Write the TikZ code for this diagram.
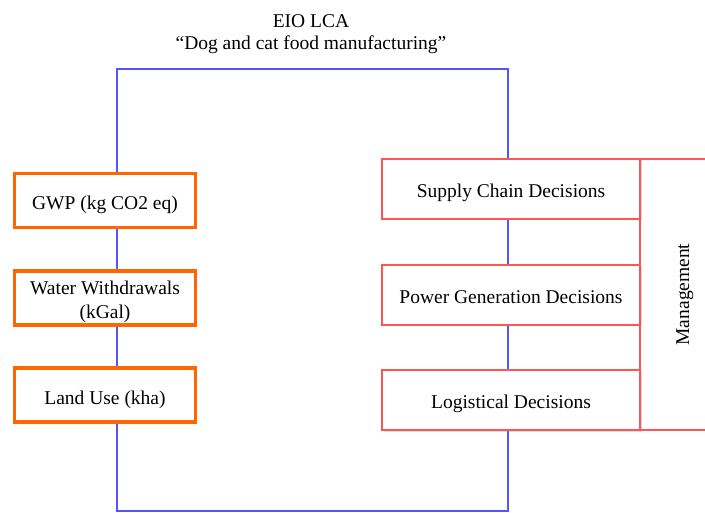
\documentclass[tikz,border=0pt]{standalone}
\usepackage{fontspec}
\setmainfont{Liberation Serif}
\usetikzlibrary{shadows}
\definecolor{lineblue}{RGB}{85,85,255}
\definecolor{boxorange}{RGB}{255,102,0}
\definecolor{boxred}{RGB}{255,85,85}
\tikzset{
  txt/.style={font=\fontsize{19.5}{24}\selectfont, align=center, inner sep=0pt},
  low/.style={text height=18pt, text depth=0pt},
  metricbox/.style={txt, draw=boxorange, line width=3.5pt, fill=white,
    minimum width=181pt, minimum height=54pt,
    drop shadow={opacity=0.3, shadow xshift=1.5pt, shadow yshift=-1.5pt}},
  metric/.style={metricbox, low},
  decision/.style={txt, low, draw=boxred, line width=1.6pt, fill=white,
    minimum width=258pt, minimum height=60pt,
    drop shadow={opacity=0.3, shadow xshift=1.5pt, shadow yshift=-1.5pt}},
  mgmt/.style={txt, low, draw=boxred, line width=1.6pt, fill=white, rotate=90,
    minimum width=271pt, minimum height=80pt},
  frame/.style={draw=lineblue, line width=1.8pt}
}
\begin{document}
\begin{tikzpicture}[x=1pt, y=-1pt]
\useasboundingbox (0,0) rectangle (705,513);
\clip (0,0) rectangle (705,513);
% title
\node[txt, font=\fontsize{19.5}{22}\selectfont] (title) at (311,34) {EIO LCA\\“Dog and cat food manufacturing”};
% blue frame
\coordinate (tl) at (117,69);
\coordinate (tr) at (508,69);
\coordinate (br) at (508,511);
\coordinate (bl) at (117,511);
\draw[frame] (tl) -- (tr) -- (br) -- (bl) -- cycle;
% metric boxes
\node[metric] (gwp) at (105,200.5) {GWP (kg CO2 eq)};
\node[metricbox] (water) at (105,298) {\raisebox{-3.5pt}[\height][\depth]{\begin{tabular}{@{}c@{}}Water Withdrawals\\(kGal)\end{tabular}}};
\node[metric] (land) at (105,395) {Land Use (kha)};
% management
\node[mgmt] (mgmt) at (680,294.5) {Management};
% decision boxes
\node[decision] (supply) at (511,189) {Supply Chain Decisions};
\node[decision] (power) at (511,295) {Power Generation Decisions};
\node[decision] (logis) at (511,400) {Logistical Decisions};
\end{tikzpicture}
\end{document}
